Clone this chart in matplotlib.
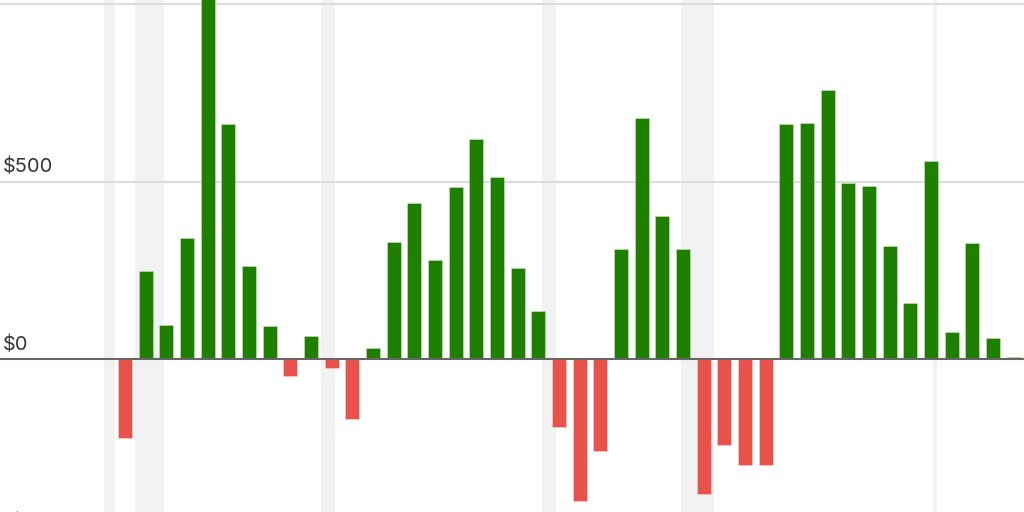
import matplotlib.pyplot as plt
from matplotlib.transforms import blended_transform_factory

# annual change, 1981-2024
years = list(range(1981, 2025))
values = [-223, 248, 97, 340, 1100, 663, 263, 93, -47, 66,
          -25, -168, 32, 331, 440, 280, 485, 621, 513, 257,
          135, -191, -398, -257, 310, 679, 404, 310, -380, -242,
          -299, -299, 663, 666, 759, 496, 487, 320, 158, 557,
          76, 326, 59, 7]

# recessions (start, end) in fractional years
recessions = [(1980.0, 1980.5), (1981.5, 1982.87), (1990.5, 1991.17),
              (2001.2, 2001.87), (2007.92, 2009.5), (2020.08, 2020.3)]

tick_values = [-500, 0, 500, 1000]
tick_labels = ["-$500", "$0", "$500", ""]

GREEN = "#1f8000"
RED = "#e8524a"

plt.rcParams['font.family'] = ['Inter', 'DejaVu Sans']

fig = plt.figure(figsize=(10.24, 5.12), dpi=100)
ax = fig.add_axes([0, 0, 1, 1])

for start, end in recessions:
    ax.axvspan(start, end, color="#f2f2f2", lw=0, zorder=0)

for v in tick_values:
    if v == 0:
        continue
    ax.axhline(v, color="#dcdcdc", lw=1.5, zorder=1)

colors = [GREEN if v >= 0 else RED for v in values]
ax.bar(years, values, width=0.68, color=colors, edgecolor=(1, 1, 1, 0.35),
       linewidth=0.6, zorder=2)

ax.axhline(0, color="#666666", lw=1.5, zorder=3)

trans = blended_transform_factory(ax.transAxes, ax.transData)
for v, lab in zip(tick_values, tick_labels):
    if lab:
        ax.text(0.003, v + 26, lab, transform=trans, fontsize=14.4,
                color="#333333", va="baseline", ha="left", zorder=4)

ax.set_xlim(1974.95, 2024.5)
ax.set_ylim(-430, 1011)
ax.axis("off")

fig.savefig("out.png", dpi=100)
